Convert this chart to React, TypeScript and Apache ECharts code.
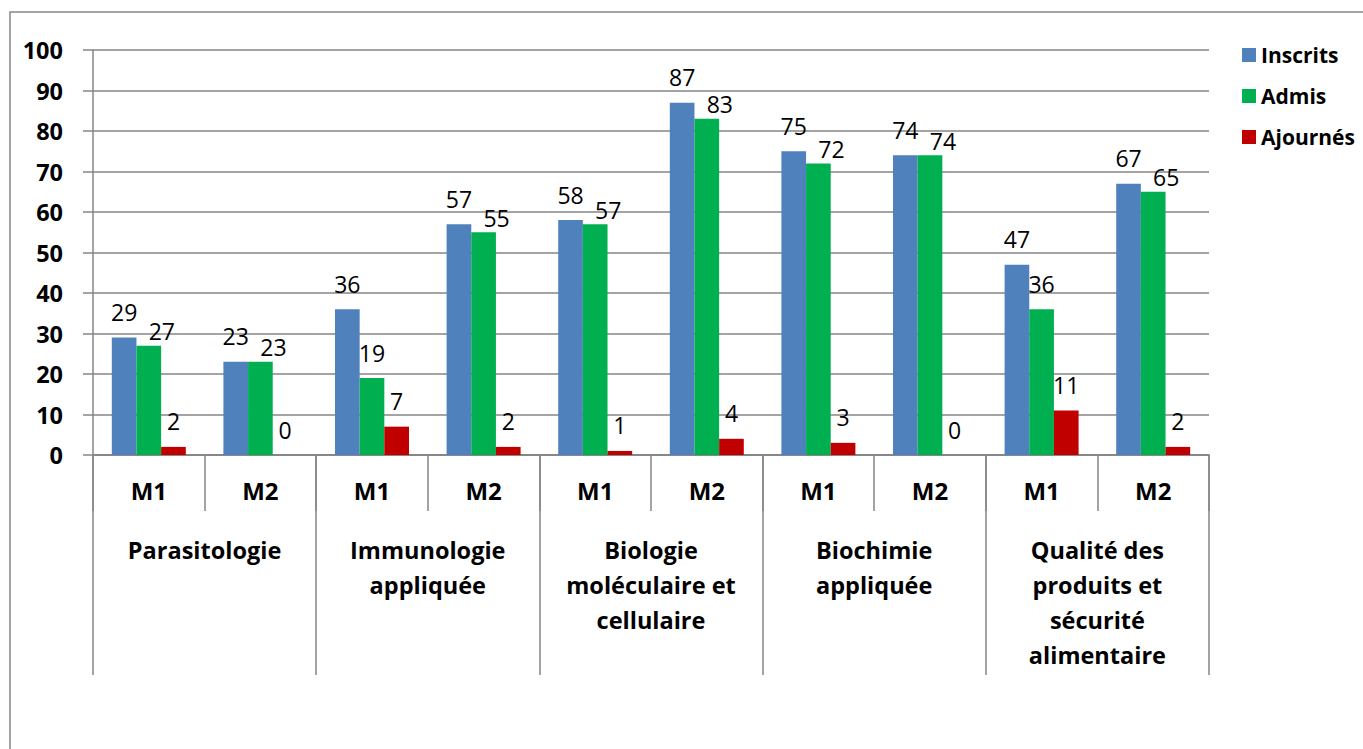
import React, { useEffect, useRef } from "react";
import * as echarts from "echarts";

const levels = ["M1", "M2", "M1", "M2", "M1", "M2", "M1", "M2", "M1", "M2"];
const groups = [
  "Parasitologie",
  "Immunologie\nappliquée",
  "Biologie\nmoléculaire et\ncellulaire",
  "Biochimie\nappliquée",
  "Qualité des\nproduits et\nsécurité\nalimentaire",
];
const inscrits = [29, 23, 36, 57, 58, 87, 75, 74, 47, 67];
const admis = [27, 23, 19, 55, 57, 83, 72, 74, 36, 65];
const ajournes = [2, 0, 7, 2, 1, 4, 3, 0, 11, 2];
const yTicks = { min: 0, max: 100, interval: 10 };

const FONT = "Open Sans";
const GRAY = "#868686";

export default function App() {
  const ref = useRef<HTMLDivElement>(null);
  useEffect(() => {
    if (!ref.current) return;
    const chart = echarts.init(ref.current, null, { renderer: "svg" });
    const labelBase = {
      show: true,
      position: "top",
      distance: 14,
      color: "#000",
      fontFamily: FONT,
      fontSize: 23,
    };
    const admisData = admis.map((v, i) => {
      const close = inscrits[i] - v < 6;
      return close
        ? { value: v, label: { distance: 3, offset: [13, 0] } }
        : { value: v };
    });
    chart.setOption({
      animation: false,
      textStyle: { fontFamily: FONT },
      graphic: [
        {
          type: "rect",
          shape: { x: 10, y: 12, width: 1500, height: 900 },
          style: { fill: "none", stroke: GRAY, lineWidth: 1.5 },
          silent: true,
        },
      ],
      legend: {
        orient: "vertical",
        left: 1237,
        top: 37,
        itemWidth: 14,
        itemHeight: 14,
        itemGap: 15,
        icon: "rect",
        textStyle: { fontFamily: FONT, fontSize: 21, fontWeight: "bold", color: "#000", lineHeight: 26 },
        data: ["Inscrits", "Admis", "Ajournés"],
      },
      grid: { left: 93, right: 154, top: 50, bottom: 294, containLabel: false },
      xAxis: [
        {
          type: "category",
          data: levels,
          position: "bottom",
          axisLine: { show: true, lineStyle: { color: GRAY, width: 1.5 } },
          axisTick: { show: true, length: 56, interval: 0, lineStyle: { color: GRAY, width: 1.5 } },
          axisLabel: {
            interval: 0,
            margin: 23,
            fontFamily: FONT,
            fontSize: 24,
            fontWeight: "bold",
            color: "#000",
          },
        },
        {
          type: "category",
          data: groups,
          position: "bottom",
          axisLine: { show: true, lineStyle: { color: GRAY, width: 1.5 } },
          axisTick: { show: true, length: 220, interval: 0, lineStyle: { color: GRAY, width: 1.5 } },
          axisLabel: {
            interval: 0,
            margin: 77,
            fontFamily: FONT,
            fontSize: 23.5,
            fontWeight: "bold",
            color: "#000",
            lineHeight: 35,
            align: "center",
          },
        },
      ],
      yAxis: {
        type: "value",
        min: yTicks.min,
        max: yTicks.max,
        interval: yTicks.interval,
        axisLine: { show: true, lineStyle: { color: GRAY, width: 1.5 } },
        axisTick: { show: true, length: 10, lineStyle: { color: GRAY, width: 1.5 } },
        splitLine: { show: true, lineStyle: { color: GRAY, width: 1.5 } },
        axisLabel: {
          margin: 30,
          fontFamily: FONT,
          fontSize: 23.5,
          fontWeight: "bold",
          color: "#000",
        },
      },
      series: [
        {
          name: "Inscrits",
          type: "bar",
          data: inscrits,
          barGap: "0%",
          barCategoryGap: "33.7%",
          itemStyle: { color: "#4F81BD" },
          label: labelBase,
        },
        {
          name: "Admis",
          type: "bar",
          data: admisData,
          barGap: "0%",
          barCategoryGap: "33.7%",
          itemStyle: { color: "#00B050" },
          label: labelBase,
        },
        {
          name: "Ajournés",
          type: "bar",
          data: ajournes,
          barGap: "0%",
          barCategoryGap: "33.7%",
          itemStyle: { color: "#C00000" },
          label: labelBase,
        },
      ],
    });
    return () => chart.dispose();
  }, []);
  return (
    <div
      ref={ref}
      style={{ position: "absolute", left: 0, top: 0, width: 1363, height: 749 }}
    />
  );
}
